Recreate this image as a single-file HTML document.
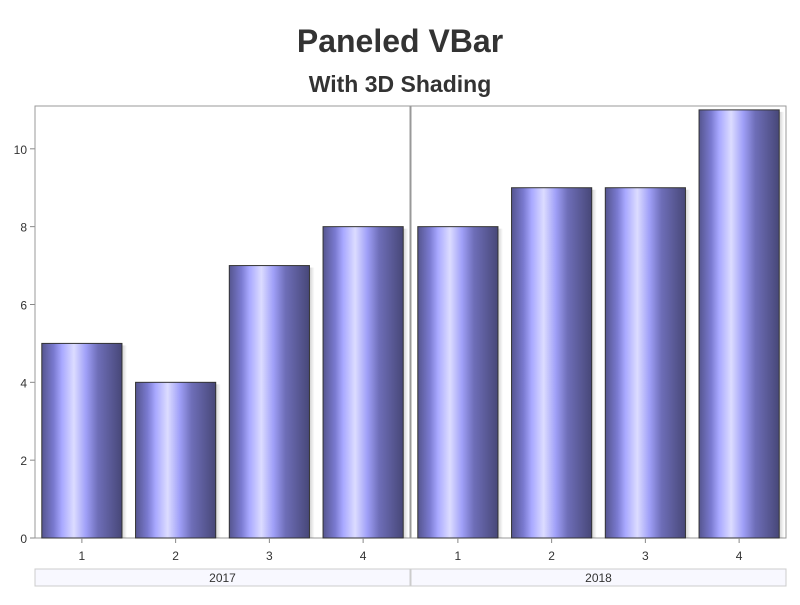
<!DOCTYPE html>
<html><head><meta charset="utf-8"><style>
body{margin:0;background:#fff;font-family:"Liberation Sans",Arial,sans-serif}
</style></head><body>
<svg width="800" height="600" xmlns="http://www.w3.org/2000/svg">
<defs>
<linearGradient id="g" x1="0" x2="1" y1="0" y2="0">
<stop offset="0" stop-color="#55558f"/>
<stop offset="0.15" stop-color="#7a7ad0"/>
<stop offset="0.25" stop-color="#a8a8ff"/>
<stop offset="0.4" stop-color="#dcdcff"/>
<stop offset="0.55" stop-color="#a0a0f8"/>
<stop offset="0.7" stop-color="#6e6eb8"/>
<stop offset="1" stop-color="#474778"/>
</linearGradient>
<linearGradient id="sh" x1="0" x2="1"><stop offset="0" stop-color="#000" stop-opacity="0.18"/><stop offset="1" stop-color="#000" stop-opacity="0"/></linearGradient>
</defs>
<text x="400" y="52" text-anchor="middle" font-size="32" font-weight="bold" fill="#333">Paneled VBar</text>
<text x="400" y="92" text-anchor="middle" font-size="23" font-weight="bold" fill="#333">With 3D Shading</text>
<g id="plot"></g>
</svg>
<script>
const years = ["2017","2018"];
const categories = ["1","2","3","4"];
const values2017 = [5,4,7,8];
const values2018 = [8,9,9,11];
const yTicks = [0,2,4,6,8,10];
const NS="http://www.w3.org/2000/svg";
const g=document.getElementById('plot');
function mk(t,a,p){const e=document.createElementNS(NS,t);for(const k in a)e.setAttribute(k,a[k]);(p||g).appendChild(e);return e;}
const plotTop=106,plotBot=538,yMax=11.1;
const y=v=>plotBot-(v/yMax)*(plotBot-plotTop);
const panels=[{x0:35,x1:410,vals:values2017},{x0:411,x1:786,vals:values2018}];
yTicks.forEach(t=>{
  const l=mk('line',{x1:30,x2:35,y1:y(t),y2:y(t),stroke:'#888'});
  
  
  const tx=mk('text',{x:27,y:y(t)+5,'text-anchor':'end','font-size':12,fill:'#333'});tx.textContent=t;
  
  
});
panels.forEach((p,pi)=>{
  const w=p.x1-p.x0,step=w/categories.length,bw=step*0.855;
  const fr=mk('rect',{x:p.x0,y:plotTop,width:w,height:plotBot-plotTop,fill:'none',stroke:'#999'});
  
  
  categories.forEach((c,i)=>{
    const cx=p.x0+step*(i+0.5),v=p.vals[i];
    const s=mk('rect',{x:cx+bw/2,y:y(v)+2,width:5,height:plotBot-y(v)-2,fill:'url(#sh)'});
    
    
    const b=mk('rect',{x:cx-bw/2,y:y(v),width:bw,height:plotBot-y(v),fill:'url(#g)',stroke:'#333','stroke-width':1});
    
    
    const tk=mk('line',{x1:cx,x2:cx,y1:plotBot,y2:plotBot+5,stroke:'#888'});
    
    
    const tl=mk('text',{x:cx,y:plotBot+22,'text-anchor':'middle','font-size':12,fill:'#333'});tl.textContent=c;
    
    
  });
  const st=mk('rect',{x:p.x0,y:569,width:w,height:17,fill:'#f8f8ff',stroke:'#ccc'});
  
  
  const sl=mk('text',{x:p.x0+w/2,y:582,'text-anchor':'middle','font-size':12,fill:'#333'});sl.textContent=years[pi];
  
  
});
</script>
</body></html>
